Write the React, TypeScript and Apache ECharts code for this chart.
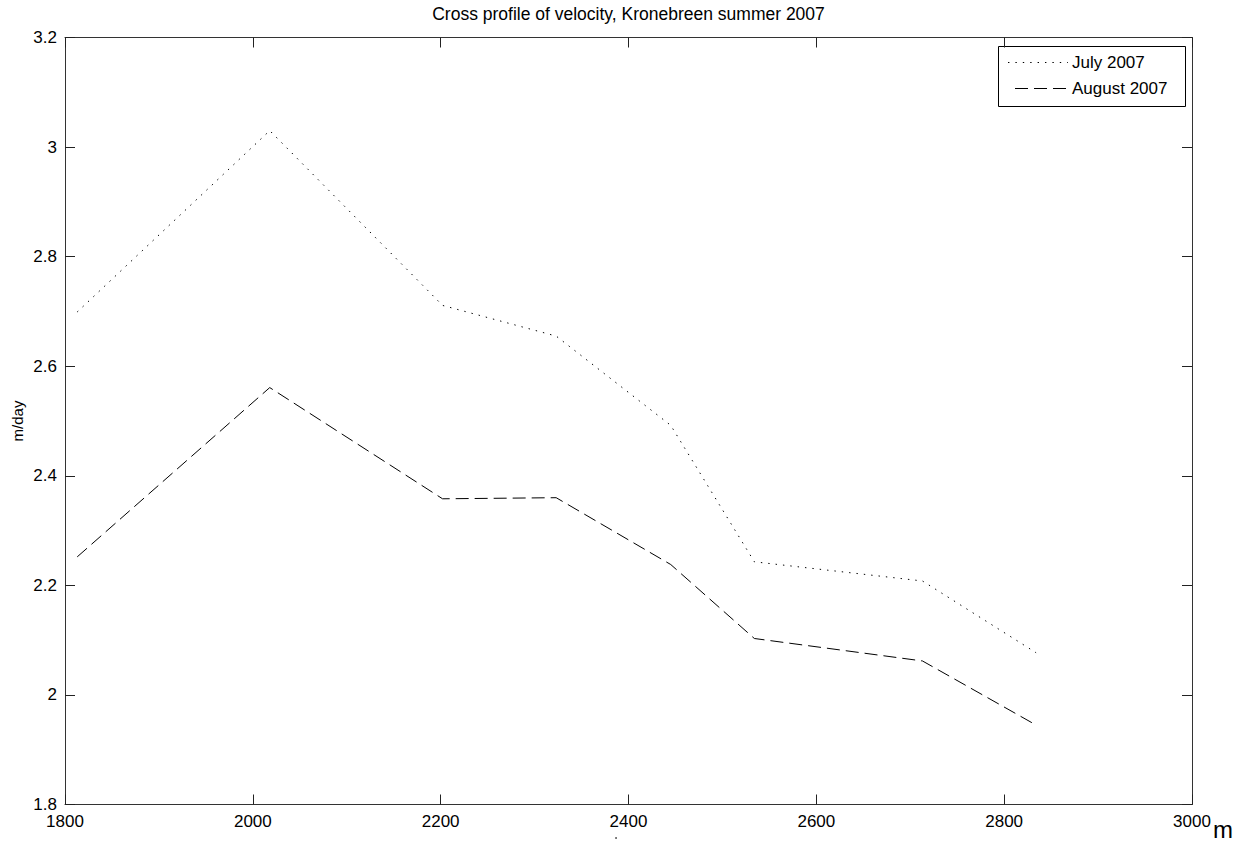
import React, { useEffect, useRef } from "react";
import * as echarts from "echarts";

const distance = [1813, 2018, 2202, 2323, 2445, 2534, 2713, 2834];
const july2007 = [2.699, 3.03, 2.711, 2.655, 2.492, 2.243, 2.208, 2.077];
const august2007 = [2.252, 2.561, 2.358, 2.36, 2.238, 2.103, 2.062, 1.945];
const seriesNames = ["July 2007", "August 2007"];
const titleText = "Cross profile of velocity, Kronebreen summer 2007";
const yName = "m/day";
const xUnit = "m";

const FONT = "'Liberation Sans', Arial, Helvetica, sans-serif";

export default function App() {
  const ref = useRef<HTMLDivElement>(null);
  useEffect(() => {
    if (!ref.current) return;
    const chart = echarts.init(ref.current, undefined, { renderer: "svg" });
    const left = 65, top = 37.5, right = 1192, bottom = 804.5;
    const axisCommon = {
      axisLine: { lineStyle: { color: "#333", width: 1 } },
      axisTick: { inside: true, length: 10, lineStyle: { color: "#222", width: 1 } },
      splitLine: { show: false },
    };
    const xData = distance.map((d, i) => [d, july2007[i]]);
    const aData = distance.map((d, i) => [d, august2007[i]]);
    chart.setOption({
      animation: false,
      backgroundColor: "#fff",
      grid: { left, top, right: 1244 - right, bottom: 841 - bottom, containLabel: false },
      xAxis: [
        {
          type: "value", min: 1800, max: 3000, interval: 200, position: "bottom",
          ...axisCommon,
          axisLabel: { fontFamily: FONT, fontSize: 17, color: "#000", margin: 8, formatter: (v: number) => String(v) },
        },
        {
          type: "value", min: 1800, max: 3000, interval: 200, position: "top",
          ...axisCommon, axisLabel: { show: false },
        },
      ],
      yAxis: [
        {
          type: "value", min: 1.8, max: 3.2, interval: 0.2, position: "left",
          ...axisCommon,
          axisLabel: {
            fontFamily: FONT, fontSize: 17, color: "#000", margin: 8,
            formatter: (v: number) => String(+v.toFixed(1)),
          },
        },
        {
          type: "value", min: 1.8, max: 3.2, interval: 0.2, position: "right",
          ...axisCommon, axisLabel: { show: false },
        },
      ],
      series: [
        {
          name: seriesNames[0], type: "line", data: xData, xAxisIndex: 0, yAxisIndex: 0,
          showSymbol: false, symbol: "none",
          lineStyle: { color: "#000", width: 1, type: [1.4, 6] },
        },
        {
          name: seriesNames[1], type: "line", data: aData, xAxisIndex: 0, yAxisIndex: 0,
          showSymbol: false, symbol: "none",
          lineStyle: { color: "#000", width: 1, type: [13, 6] },
        },
      ],
      graphic: [
        {
          type: "text", x: (left + right) / 2, y: 14,
          style: { text: titleText, font: `17.5px ${FONT}`, fill: "#000", textAlign: "center", textVerticalAlign: "middle" },
        },
        {
          type: "text", x: 17, y: (top + bottom) / 2, rotation: Math.PI / 2,
          style: { text: yName, font: `15px ${FONT}`, fill: "#000", textAlign: "center", textVerticalAlign: "middle" },
        },
        {
          type: "text", x: 1213, y: 829,
          style: { text: xUnit, font: `24px ${FONT}`, fill: "#000", textAlign: "left", textVerticalAlign: "middle" },
        },
        {
          type: "circle", shape: { cx: 616, cy: 838, r: 0.8 }, style: { fill: "#333" },
        },
        {
          type: "group", z: 100,
          children: [
            { type: "rect", shape: { x: 998.5, y: 46.5, width: 187, height: 60 }, style: { fill: "#fff", stroke: "#000", lineWidth: 1 } },
            { type: "line", shape: { x1: 1008, y1: 62.5, x2: 1068, y2: 62.5 }, style: { stroke: "#000", lineWidth: 1, lineDash: [1.4, 6] } },
            { type: "line", shape: { x1: 1015, y1: 88.5, x2: 1068, y2: 88.5 }, style: { stroke: "#000", lineWidth: 1, lineDash: [13, 6] } },
            { type: "text", x: 1072, y: 62.5, style: { text: seriesNames[0], font: `17px ${FONT}`, fill: "#000", textAlign: "left", textVerticalAlign: "middle" } },
            { type: "text", x: 1072, y: 88.5, style: { text: seriesNames[1], font: `17px ${FONT}`, fill: "#000", textAlign: "left", textVerticalAlign: "middle" } },
          ],
        },
      ],
    });
    return () => chart.dispose();
  }, []);
  return <div ref={ref} style={{ position: "fixed", left: 0, top: 0, width: 1244, height: 841 }} />;
}
